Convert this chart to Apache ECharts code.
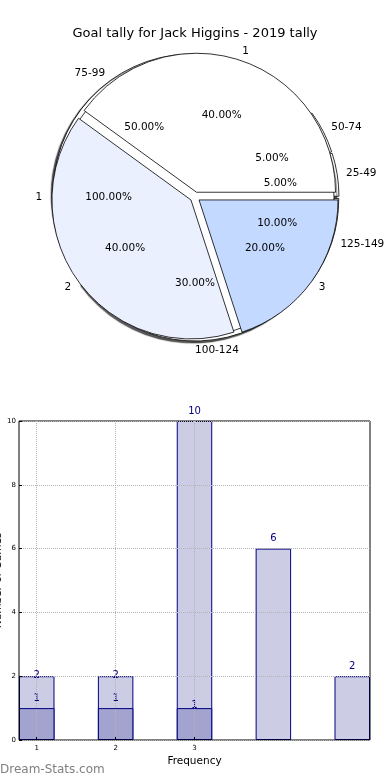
<!DOCTYPE html>
<html><head><meta charset="utf-8">
<script src="https://cdn.jsdelivr.net/npm/echarts@6/dist/echarts.min.js"></script>
<style>html,body{margin:0;padding:0;background:#fff}#c{width:390px;height:780px}</style>
</head><body><div id="c"></div>
<script>
const chartTitle = 'Goal tally for Jack Higgins - 2019 tally';
const rangeLabels = ['25-49', '50-74', '75-99', '100-124', '125-149'];
const rangeCounts = [1, 1, 10, 6, 2];
const singleLabels = ['1'];
const singleCounts = [1];
const goalLabels = ['1', '2', '3'];
const goalCounts = [2, 2, 1];
const barX = [1, 2, 3, 4, 5];
const lightValues = [2, 2, 10, 6, 2];
const darkValues = [1, 1, 1];
const xTickLabels = [1, 2, 3];
const xAxisName = 'Frequency';
const yAxisName = 'Number of Games';
const watermark = 'Dream-Stats.com';

const FONT = 'DejaVu Sans';
const C = [195, 197];
const R = 139;
const pieColors = ['#ffffff', '#eaf0fd', '#c4d9ff'];

function slicePie(labels, values, colors, offset, extra) {
  return Object.assign({
    type: 'pie', center: C, radius: R, startAngle: 0, clockwise: false,
    avoidLabelOverlap: false, silent: true, animation: false,
    selectedMode: 'multiple', selectedOffset: offset,
    label: { show: false }, labelLine: { show: false },
    emphasis: { disabled: true },
    itemStyle: { borderColor: '#000', borderWidth: 0.8 },
    select: { itemStyle: { borderColor: '#000', borderWidth: 0.8 } },
    data: labels.map((n, i) => ({ name: n, value: values[i], selected: offset > 0,
      itemStyle: { color: colors[i % colors.length] } }))
  }, extra || {});
}
function labelRing(labels, values, r0, r1, position, formatter, start) {
  return {
    type: 'pie', center: C, radius: [r0, r1], startAngle: start || 0, clockwise: false,
    avoidLabelOverlap: false, silent: true, animation: false,
    itemStyle: { color: 'rgba(0,0,0,0)', borderWidth: 0 },
    emphasis: { disabled: true },
    label: { show: true, position: position, formatter: formatter, color: '#000',
      fontFamily: FONT, fontSize: 10.5, distanceToLabelLine: 0 },
    labelLine: { show: false, length: 0, length2: 0 },
    data: labels.map((n, i) => ({ name: n, value: values[i] }))
  };
}
const pct = p => p.percent.toFixed(2) + '%';
const nm = p => p.name;

const series = [
  slicePie(rangeLabels, rangeCounts, ['#ffffff'], 5, {
    itemStyle: { borderColor: '#000', borderWidth: 0.8, shadowColor: 'rgba(0,0,0,0.65)',
      shadowBlur: 1, shadowOffsetX: -2, shadowOffsetY: 2 } }),
  slicePie(singleLabels, singleCounts, ['#ffffff'], 0),
  slicePie(goalLabels, goalCounts, pieColors, 5),
  labelRing(rangeLabels, rangeCounts, R * 1.1 - 1, R * 1.1, 'outside', nm, 0.01),
  labelRing(singleLabels, singleCounts, R * 1.1 - 1, R * 1.1, 'outside', nm),
  labelRing(goalLabels, goalCounts, R * 1.1 - 1, R * 1.1, 'outside', nm),
  labelRing(rangeLabels, rangeCounts, R * 0.6 - 1, R * 0.6 + 1, 'inside', pct),
  labelRing(singleLabels, singleCounts, R * 0.6 - 1, R * 0.6 + 1, 'inside', pct),
  labelRing(goalLabels, goalCounts, R * 0.6 - 1, R * 0.6 + 1, 'inside', pct),
  {
    type: 'bar', name: 'total', data: barX.map((x, i) => ({ value: [x, lightValues[i]],
      label: (darkValues[i] !== undefined && lightValues[i] < 5) ? { offset: [0, 9] } : undefined })),
    barWidth: '45%', barGap: '-100%', z: -1, animation: false, silent: true,
    itemStyle: { color: '#ccccE4', borderColor: '#000080', borderWidth: 1 },
    label: { show: true, position: 'top', color: '#000080', fontFamily: FONT, fontSize: 10,
      formatter: p => p.value[1] }
  },
  {
    type: 'bar', name: 'part', data: darkValues.map((v, i) => ({ value: [barX[i], v],
      label: lightValues[i] >= 5 ? { offset: [0, 7] } : undefined })),
    barWidth: '45%', barGap: '-100%', z: -1, animation: false, silent: true,
    itemStyle: { color: '#a3a3cf', borderColor: '#000080', borderWidth: 1 },
    label: { show: true, position: 'top', color: '#000080', fontFamily: FONT, fontSize: 10,
      formatter: p => p.value[1] }
  }
];

const chart = echarts.init(document.getElementById('c'), null, { renderer: 'canvas' });
chart.setOption({
  animation: false,
  backgroundColor: '#fff',
  textStyle: { fontFamily: FONT },
  title: { text: chartTitle, left: 'center', top: 22,
    textStyle: { fontFamily: FONT, fontSize: 13, fontWeight: 'normal', color: '#000' } },
  grid: { left: 19, right: 20, top: 421, bottom: 40, show: true, borderColor: '#000', borderWidth: 1,
    backgroundColor: 'transparent', containLabel: false, outerBoundsMode: 'none' },
  xAxis: {
    type: 'value', min: 0.775, max: 5.225,
    axisLine: { show: false },
    axisTick: { show: true, inside: true, length: 3, customValues: xTickLabels, lineStyle: { color: '#000' } },
    axisLabel: { customValues: xTickLabels, fontSize: 7, color: '#000', margin: 5, fontFamily: FONT },
    splitLine: { show: true, lineStyle: { type: 'dotted', color: '#b4b4b4' } },
    name: xAxisName, nameLocation: 'middle', nameGap: 16, nameMoveOverlap: false,
    nameTextStyle: { fontFamily: FONT, fontSize: 10.5, color: '#000' }
  },
  yAxis: {
    type: 'value', min: 0, max: 10, interval: 2,
    axisLine: { show: false },
    axisTick: { show: true, inside: true, length: 3, lineStyle: { color: '#000' } },
    axisLabel: { fontSize: 7, color: '#000', margin: 3, fontFamily: FONT },
    splitLine: { show: true, lineStyle: { type: 'dotted', color: '#b4b4b4' } },
    name: yAxisName, nameLocation: 'middle', nameGap: 15, nameRotate: 90, nameMoveOverlap: false,
    nameTextStyle: { fontFamily: FONT, fontSize: 10.5, color: '#000' }
  },
  graphic: [{ type: 'text', left: 0, top: 764, silent: true,
    style: { text: watermark, fill: '#808080', font: '12px "DejaVu Sans"' } }],
  series: series
});
</script></body></html>
